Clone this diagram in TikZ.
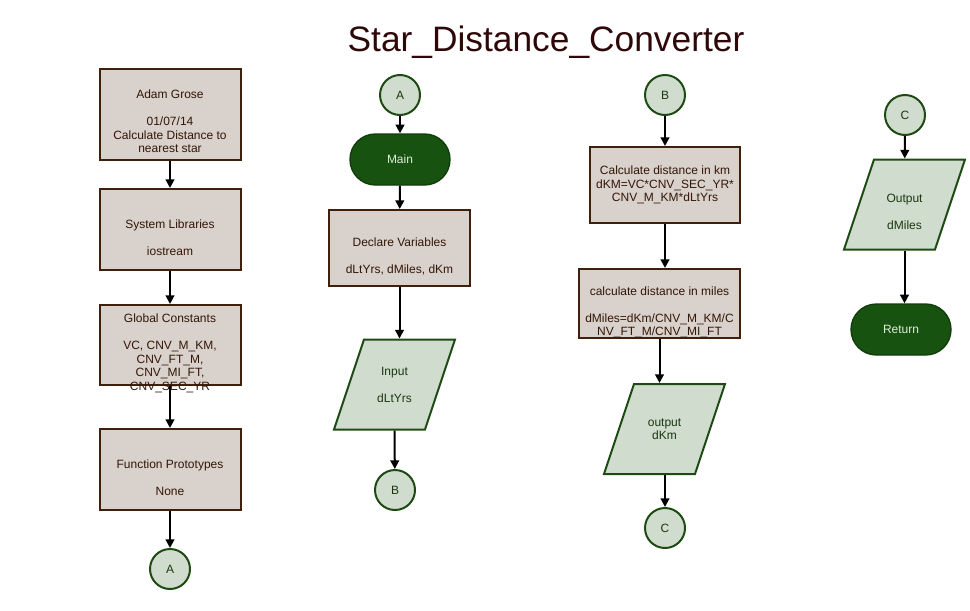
\documentclass[tikz,border=0pt]{standalone}
\usepackage{fontspec}
\setmainfont{Liberation Sans}
\usetikzlibrary{shapes.geometric,arrows.meta}

\definecolor{boxFill}{RGB}{216,209,204}
\definecolor{boxLine}{RGB}{62,32,12}
\definecolor{brownText}{RGB}{52,22,6}
\definecolor{ioFill}{RGB}{208,220,206}
\definecolor{ioLine}{RGB}{30,74,20}
\definecolor{ioText}{RGB}{26,56,16}
\definecolor{termFill}{RGB}{24,82,16}
\definecolor{termLine}{RGB}{16,60,10}
\definecolor{termText}{RGB}{222,238,216}
\definecolor{titleText}{RGB}{46,8,8}

% extra top space, pushes box text a little below the middle
\newcommand{\boxlead}[1][9pt]{\mbox{}\\[#1]}

\begin{document}
\begin{tikzpicture}
[x=0.75pt,y=-0.75pt,
every node/.style={font=\fontsize{9}{10.1}\selectfont,align=center},
procbox/.style={rectangle,draw=boxLine,line width=1.5pt,fill=boxFill,text=brownText,minimum width=105.75pt},
iobox/.style={trapezium,trapezium left angle=71.57,trapezium right angle=108.43,
	inner xsep=22.875pt,inner ysep=33.75pt,draw=ioLine,line width=1.5pt,fill=ioFill},
iotext/.style={text=ioText},
termbox/.style={rectangle,rounded corners=19pt,draw=termLine,line width=1pt,fill=termFill,text=termText,minimum width=75pt,minimum height=38.25pt},
joint/.style={circle,draw=ioLine,line width=1.5pt,fill=ioFill,text=ioText,minimum size=30pt,inner sep=0pt},
flow/.style={draw=black,line width=1.5pt,-{Triangle[width=6.5pt,length=6.5pt]}}]

\useasboundingbox (0,0) rectangle (970,610);

\node[font=\fontsize{26.5}{32}\selectfont,text=titleText,anchor=base] (title) at (546,51) {Star\_Distance\_Converter};

% header column
\node[procbox,inner ysep=0pt,minimum height=68.25pt] (author) at (170,114.5)
	{\boxlead[6.75pt]Adam Grose\\ \mbox{}\\01/07/14\\Calculate Distance to\\nearest star};
\node[procbox,minimum height=60.75pt] (syslib) at (170,229.5)
	{\boxlead System Libraries\\ \mbox{}\\iostream};
\node[procbox,minimum height=60pt] (consts) at (170,345) {};
\node[text=brownText,anchor=north,inner sep=0pt] (constsText) at (170,314)
	{Global Constants\\ \mbox{}\\VC, CNV\_M\_KM,\\CNV\_FT\_M,\\CNV\_MI\_FT,\\CNV\_SEC\_YR};
\node[procbox,minimum height=60.75pt] (protos) at (170,469.5)
	{\boxlead Function Prototypes\\ \mbox{}\\None};
\node[joint] (A1) at (170,569) {A};

\draw[flow] (author) -- (syslib);
\draw[flow] (syslib) -- (consts);
\draw[flow] (consts) -- (protos);
\draw[flow] (protos) -- (A1);

% main column
\node[joint] (A2) at (400,95) {A};
\node[termbox] (main) at (400,159.5) {Main};
\node[procbox,minimum height=57pt] (declare) at (399.5,248)
	{\boxlead Declare Variables\\ \mbox{}\\dLtYrs, dMiles, dKm};
\node[iobox,label={[iotext]center:{Input\\ \mbox{}\\dLtYrs}}] (input) at (394.5,384.5) {};
\node[joint] (B2) at (395,490) {B};

\draw[flow] (A2) -- (main);
\draw[flow] (main) -- (declare);
\draw[flow] (declare.south) -- (declare.south |- input.north);
\draw[flow] (input.south) -- (B2);

% conversion column
\node[joint] (B3) at (665,95) {B};
\node[procbox,minimum width=112.5pt,minimum height=57pt] (calcKm) at (665,185)
	{Calculate distance in km\\dKM=VC*CNV\_SEC\_YR*\\CNV\_M\_KM*dLtYrs};
\node[procbox,inner ysep=-5pt,minimum width=120.75pt,minimum height=51.75pt] (calcMiles) at (659.5,303.5)
	{\boxlead[9.75pt]calculate distance in miles\\ \mbox{}\\dMiles=dKm/CNV\_M\_KM/C\\NV\_FT\_M/CNV\_MI\_FT};
\node[iobox,label={[iotext]center:{output\\dKm}}] (outKm) at (664.5,429) {};
\node[joint] (C3) at (665,528) {C};

\draw[flow] (B3) -- (calcKm);
\draw[flow] (calcKm.south) -- (calcKm.south |- calcMiles.north);
\draw[flow] (calcMiles.south) -- (calcMiles.south |- outKm.north);
\draw[flow] (C3 |- outKm.south) -- (C3);

% output column
\node[joint] (C4) at (905,115) {C};
\node[iobox,label={[iotext,yshift=-5.25pt]center:{Output\\ \mbox{}\\dMiles}}] (outMiles) at (904.5,204.5) {};
\node[termbox] (finish) at (901,329.5) {Return};

\draw[flow] (C4) -- (outMiles);
\draw[flow] (outMiles.south) -- (outMiles.south |- finish.north);
\end{tikzpicture}
\end{document}
